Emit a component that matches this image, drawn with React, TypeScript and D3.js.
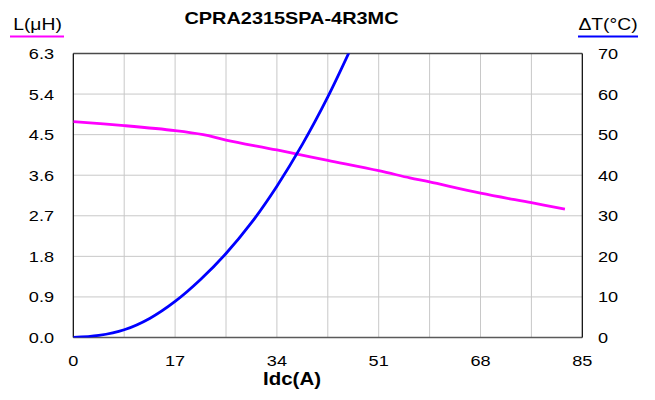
import React from "react";
import * as d3 from "d3";

const idcL = [0, 8.5, 17, 21.7, 25.5, 34, 42.5, 51, 56.2, 59.5, 68, 76.5, 82.1];
const inductance = [4.79, 4.7, 4.59, 4.5, 4.38, 4.16, 3.93, 3.7, 3.54, 3.45, 3.2, 2.99, 2.85];
const idcT = [0, 4.25, 8.5, 12.75, 17, 21.25, 25.5, 29.75, 34, 38.25, 42.5, 46.75];
const tempRise = [0, 0.5, 1.9, 4.7, 8.9, 14.3, 20.7, 28.3, 37.3, 47.6, 59.3, 72.5];
const xTicks = [0, 17, 34, 51, 68, 85];
const xGrid = [8.5, 17, 25.5, 34, 42.5, 51, 59.5, 68, 76.5];
const lTicks = [0, 0.9, 1.8, 2.7, 3.6, 4.5, 5.4, 6.3];
const tTicks = [0, 10, 20, 30, 40, 50, 60, 70];

const W = 655, H = 400;
const left = 73.3, right = 582.3, top = 53.5, bottom = 337.5;
const SX = 1.17;
const FONT = "'Liberation Sans', Arial, sans-serif";

function T({ x, y, anchor = "middle", size = 15.5, bold = false, children, fill = "#000" }: any) {
  return (
    <text
      transform={`translate(${x},${y}) scale(${SX},1)`}
      textAnchor={anchor}
      fontSize={size}
      fontWeight={bold ? "bold" : "normal"}
      fontFamily={FONT}
      fill={fill}
    >
      {children}
    </text>
  );
}

export default function App() {
  const x = d3.scaleLinear().domain([0, 85]).range([left, right]);
  const yL = d3.scaleLinear().domain([0, 6.3]).range([bottom, top]);
  const yT = d3.scaleLinear().domain([0, 70]).range([bottom, top]);

  const lineL = d3
    .line<number>()
    .x((_, i) => x(idcL[i]))
    .y((d) => yL(d))
    .curve(d3.curveCatmullRom);
  const lineT = d3
    .line<number>()
    .x((_, i) => x(idcT[i]))
    .y((d) => yT(d))
    .curve(d3.curveCatmullRom);

  return (
    <svg width={W} height={H} style={{ position: "absolute", left: 0, top: 0, background: "#fff" }}>
      <defs>
        <clipPath id="plot">
          <rect x={left} y={top} width={right - left} height={bottom - top} />
        </clipPath>
      </defs>
      <rect x={0} y={0} width={W} height={H} fill="#fff" />
      {xGrid.map((v) => (
        <line key={"vx" + v} x1={x(v)} x2={x(v)} y1={top} y2={bottom} stroke="#c8c8c8" strokeWidth={1} />
      ))}
      {lTicks.slice(1, -1).map((v) => (
        <line key={"hy" + v} x1={left} x2={right} y1={yL(v)} y2={yL(v)} stroke="#c8c8c8" strokeWidth={1} />
      ))}
      <line x1={left} x2={right} y1={top} y2={top} stroke="#4a4a4a" strokeWidth={1.5} />
      <line x1={left} x2={right} y1={bottom} y2={bottom} stroke="#5a5a5a" strokeWidth={1.5} />
      <line x1={left} x2={left} y1={top} y2={bottom} stroke="#000" strokeWidth={1.2} />
      <line x1={right} x2={right} y1={top} y2={bottom} stroke="#000" strokeWidth={1.2} />

      <g clipPath="url(#plot)">
        <path d={lineL(inductance) || ""} fill="none" stroke="#ff00ff" strokeWidth={2.8} />
        <path d={lineT(tempRise) || ""} fill="none" stroke="#0000ff" strokeWidth={2.8} />
      </g>

      {lTicks.map((v) => (
        <T key={"lt" + v} x={54} y={yL(v) + 5.5} anchor="end">
          {v.toFixed(1)}
        </T>
      ))}
      {tTicks.map((v) => (
        <T key={"rt" + v} x={598} y={yT(v) + 5.5} anchor="start">
          {String(v)}
        </T>
      ))}
      {xTicks.map((v) => (
        <T key={"xt" + v} x={x(v)} y={366} anchor="middle">
          {String(v)}
        </T>
      ))}
      <T x={292} y={385} size={17.5} bold>
        Idc(A)
      </T>

      <T x={291.5} y={24} size={17} bold>
        CPRA2315SPA-4R3MC
      </T>
      <T x={37.5} y={29.5} size={16.5}>
        L(μH)
      </T>
      <line x1={10} x2={64} y1={36.5} y2={36.5} stroke="#ff00ff" strokeWidth={2.2} />
      <T x={608} y={29.5} size={16.5}>
        ΔT(°C)
      </T>
      <line x1={578} x2={638} y1={36.5} y2={36.5} stroke="#0000ff" strokeWidth={2.2} />
    </svg>
  );
}
